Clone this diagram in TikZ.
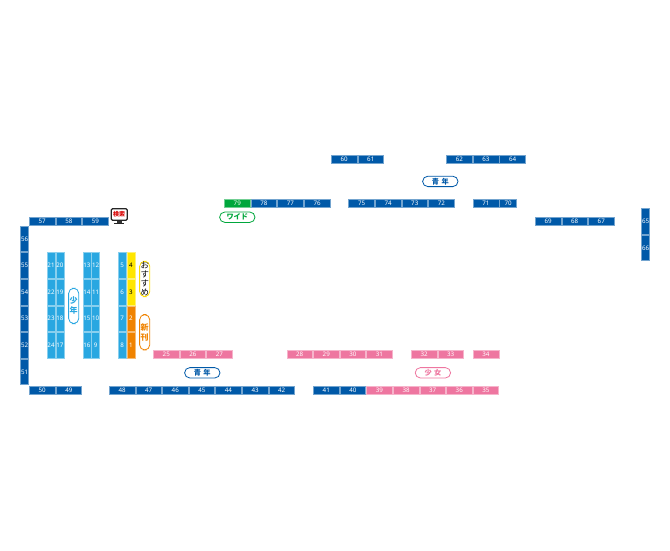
\documentclass[tikz,border=0pt]{standalone}
\usepackage{fontspec}
\setmainfont{Noto Sans}
\newfontfamily\jpf{Noto Sans CJK JP}
\definecolor{dkb}{HTML}{0059A8}
\definecolor{ltb}{HTML}{29A7E1}
\definecolor{pnk}{HTML}{EE76A0}
\definecolor{org}{HTML}{F08300}
\definecolor{yel}{HTML}{FFE600}
\definecolor{grn}{HTML}{00A73C}
\tikzset{
  booth/.style={anchor=north west,inner sep=0pt,outer sep=0pt,font=\fontsize{6.2}{6.6}\selectfont,text=white,line width=.5pt,align=center},
  hb/.style={booth,minimum width=25.7pt,minimum height=8pt},
  vb/.style={booth,minimum width=8pt,minimum height=25.7pt},
  pill/.style={anchor=north west,rounded corners=5.2pt,fill=white,line width=.8pt,inner sep=0pt,outer sep=0pt,font=\jpf\bfseries\fontsize{7.2}{8.2}\selectfont,align=center},
  hpill/.style={pill,minimum width=35.4pt,minimum height=10.4pt},
  vpill/.style={pill,minimum width=10.2pt,minimum height=35.4pt},
}
\newcommand{\hcells}[4]{% list x y colour
  \foreach \n/\xx in {#1}{\node[hb,fill=#4,draw=#4!55!white] (b\n) at (\xx,#3) {\n};}}
\newcommand{\vcells}[4]{% list x y colour: list is number/y
  \foreach \n/\yy in {#1}{\node[vb,fill=#4,draw=#4!55!white] (b\n) at (#2,\yy) {\n};}}
\begin{document}
\begin{tikzpicture}[x=1pt,y=-1pt]
\useasboundingbox (0,0) rectangle (670,550);
% top rows
\hcells{60/331.3,61/357.9,62/446.5,63/473.1,64/499.7}{0}{155}{dkb}
\hcells{78/251,77/277.6,76/304.2,75/348.7,74/375.3,73/401.9,72/428.5,71/473.1}{0}{199.6}{dkb}
\node[hb,fill=grn,draw=grn!55!white] (b79) at (224.4,199.6) {79};
\node[hb,minimum width=16.8pt,fill=dkb,draw=dkb!55!white] (b70) at (499.7,199.6) {70};
\hcells{57/29.4,58/56,59/82.6,69/535.2,68/561.8,67/588.4}{0}{217.4}{dkb}
% left and right columns
\vcells{56/226,55/252.6,54/279.2,53/305.8,52/332.4,51/359}{20.6}{0}{dkb}
\vcells{65/208.4,66/235}{641.6}{0}{dkb}
% inner columns
\vcells{21/252.6,22/279.2,23/305.8,24/332.4}{47}{0}{ltb}
\vcells{20/252.6,19/279.2,18/305.8,17/332.4}{55.8}{0}{ltb}
\vcells{13/252.6,14/279.2,15/305.8,16/332.4}{82.8}{0}{ltb}
\vcells{12/252.6,11/279.2,10/305.8,9/332.4}{91.6}{0}{ltb}
\vcells{5/252.6,6/279.2,7/305.8,8/332.4}{118.2}{0}{ltb}
\node[vb,fill=yel,draw=yel!55!white,text=black] (b4) at (127,252.6) {4};
\node[vb,fill=yel,draw=yel!55!white,text=black] (b3) at (127,279.2) {3};
\node[vb,fill=org,draw=org!55!white] (b2) at (127,305.8) {2};
\node[vb,fill=org,draw=org!55!white] (b1) at (127,332.4) {1};
% pink row
\hcells{25/153.4,26/180,27/206.6,28/286.8,29/313.4,30/340,31/366.6,32/411.2,33/437.8,34/473.1}{0}{350.3}{pnk}
% bottom row
\hcells{50/29.4,49/56,48/109.2,47/135.8,46/162.4,45/189,44/215.6,43/242.2,42/268.8,41/313.4,40/340}{0}{386}{dkb}
\hcells{39/366.6,38/393.2,37/419.8,36/446.4,35/473}{0}{386}{pnk}
% labels
\node[hpill,draw=dkb,text=dkb] (lseinen1) at (422.6,176.2) {青\,\,年};
\node[hpill,draw=dkb,text=dkb] (lseinen2) at (184.6,367.6) {青\,\,年};
\node[hpill,draw=pnk,text=pnk] (lshojo) at (415.2,367.6) {少\,\,女};
\node[hpill,draw=grn,text=grn] (lwide) at (219.6,212) {ワイド};
\node[vpill,draw=ltb,text=ltb,font=\jpf\bfseries\fontsize{8}{9}\selectfont] (lshonen) at (68.6,288.2) {少\\[1pt]年};
\node[vpill,draw=yel!90!org,text=black,font=\jpf\fontsize{8.4}{8.9}\selectfont] (lrec) at (139.6,261.2) {お\\す\\す\\め};
\node[vpill,draw=org,text=org,font=\jpf\bfseries\fontsize{8}{9}\selectfont] (lnew) at (139.6,314.6) {新\\[1pt]刊};
% search terminal
\fill[black!80] (116.5,221) rectangle (122,223);
\fill[black!85] (114,223) rectangle (124.4,224.4);
\node[anchor=north west,draw=black!85,fill=white,line width=1.2pt,rounded corners=1.2pt,minimum width=16pt,minimum height=11.4pt,inner sep=0pt,outer sep=0pt,text=red!85!black,font=\jpf\bfseries\fontsize{6}{6.4}\selectfont] (kensaku) at (111.2,208.8) {検索};
\end{tikzpicture}
\end{document}
